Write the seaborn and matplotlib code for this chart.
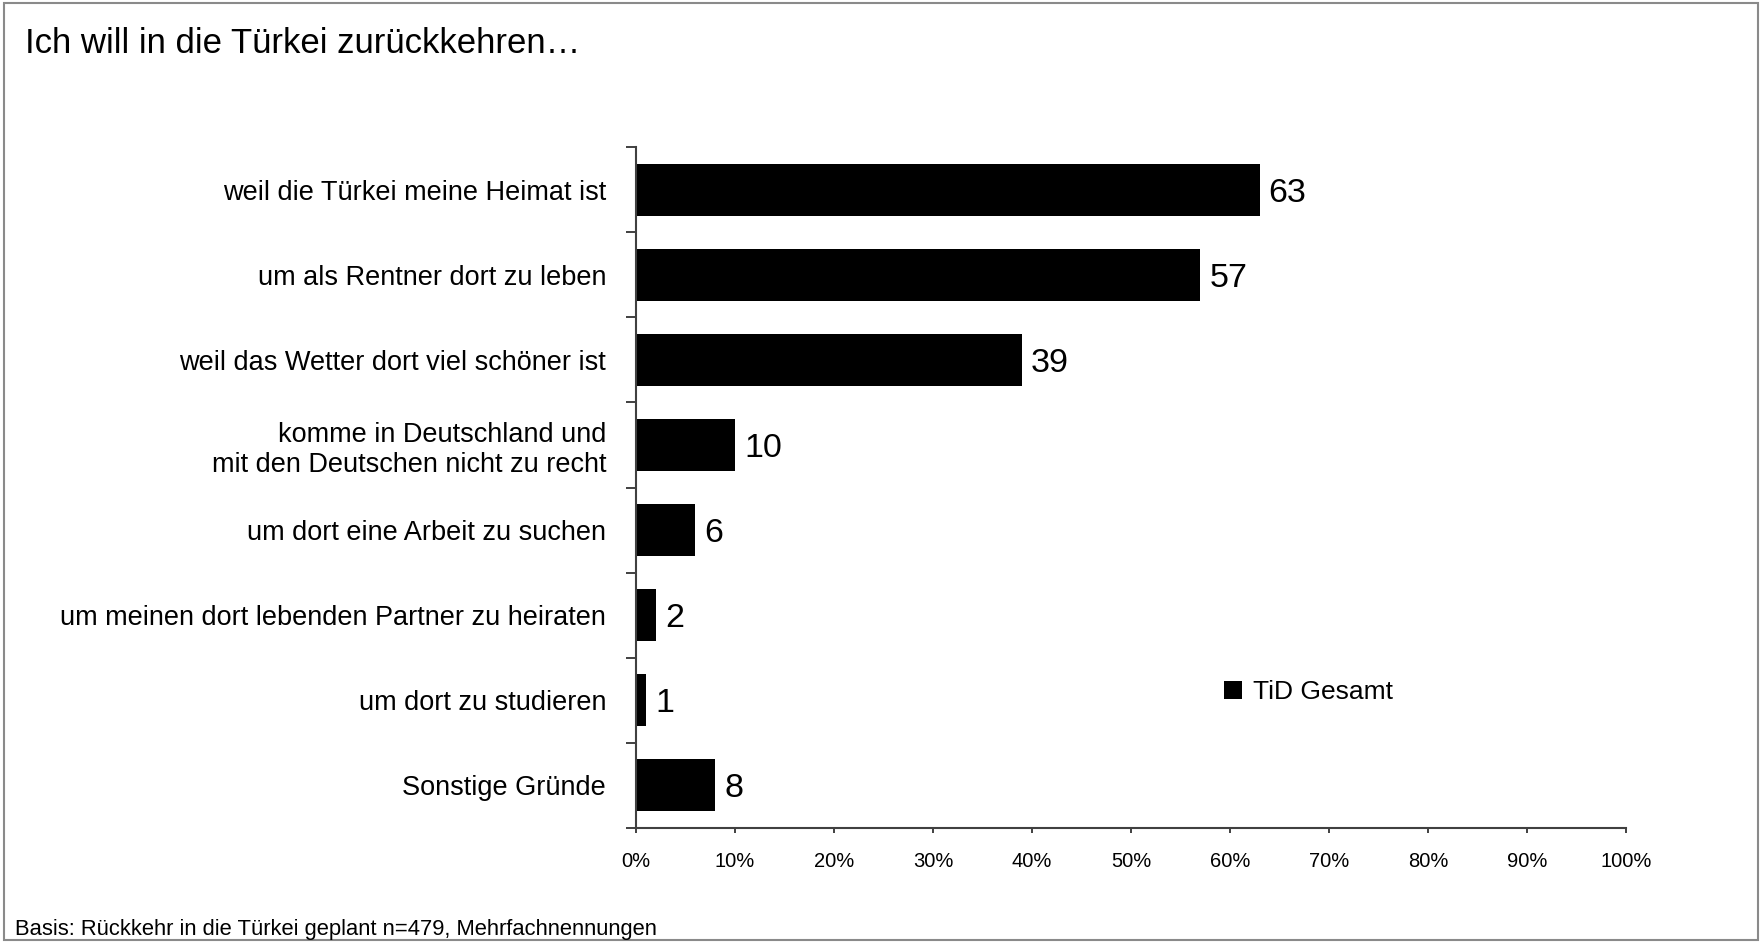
import matplotlib
matplotlib.use("Agg")
import matplotlib.pyplot as plt
import numpy as np
import pandas as pd
import seaborn as sns
from matplotlib.patches import Rectangle

# --- data -------------------------------------------------------------
reasons = [
    "weil die Türkei meine Heimat ist",
    "um als Rentner dort zu leben",
    "weil das Wetter dort viel schöner ist",
    "komme in Deutschland und\nmit den Deutschen nicht zu recht",
    "um dort eine Arbeit zu suchen",
    "um meinen dort lebenden Partner zu heiraten",
    "um dort zu studieren",
    "Sonstige Gründe",
]
shares = [63, 57, 39, 10, 6, 2, 1, 8]
series_name = "TiD Gesamt"
tick_values = list(range(0, 101, 10))
tick_labels = [f"{v}%" for v in tick_values]
title = "Ich will in die Türkei zurückkehren…"
footnote = "Basis: Rückkehr in die Türkei geplant n=479, Mehrfachnennungen"

# --- style ------------------------------------------------------------
sns.set_style("white")
FONT = ["Liberation Sans", "DejaVu Sans"]
plt.rcParams["font.family"] = FONT
for key in ("text.color", "axes.labelcolor", "xtick.color", "ytick.color"):
    plt.rcParams[key] = "black"
AXIS_COLOR = "#404040"

W, H = 1760, 942
fig = plt.figure(figsize=(W / 100, H / 100), dpi=100)
ax = fig.add_axes([636 / W, 1 - 828 / H, 990 / W, (828 - 147) / H])

df = pd.DataFrame({"Grund": reasons, "Anteil": shares, "Serie": series_name})
sns.barplot(
    data=df, x="Anteil", y="Grund", hue="Serie", palette=["black"],
    orient="h", width=0.61, saturation=1, linewidth=0, ax=ax,
)

ax.set_xlim(0, 100)
ax.set_ylim(len(reasons) - 0.5, -0.5)
ax.set_xlabel("")
ax.set_ylabel("")
ax.set_xticks(tick_values, tick_labels)
ax.set_yticks(np.arange(-0.5, len(reasons), 1.0), minor=True)

ax.tick_params(axis="y", which="major", left=True, length=0, pad=21.5,
               labelsize=19.5)
ax.tick_params(axis="y", which="minor", left=True, length=7.2, width=1.4,
               color=AXIS_COLOR, direction="out")
ax.tick_params(axis="x", which="major", bottom=True, length=3.6, width=1.4,
               color=AXIS_COLOR, direction="out", pad=13.5, labelsize=14.5)

sns.despine(ax=ax)
for side in ("left", "bottom"):
    ax.spines[side].set_color(AXIS_COLOR)
    ax.spines[side].set_linewidth(1.5)

# value labels at the bar ends, centred on the digits
value_texts = ax.bar_label(ax.containers[0], fmt="{:.0f}", padding=6.5,
                           fontsize=24.5)
for t in value_texts:
    t.set_verticalalignment("center_baseline")

sns.move_legend(
    ax, loc="center left", bbox_to_anchor=(1224 / W, 1 - 692 / H),
    bbox_transform=fig.transFigure, title=None, frameon=False,
    fontsize=19, handlelength=0.7, handleheight=0.7, handletextpad=0.4,
    borderpad=0, borderaxespad=0,
)

fig.text(25 / W, 1 - 53 / H, title, fontsize=25, ha="left", va="baseline")
fig.text(15 / W, 1 - 935 / H, footnote, fontsize=15.8, ha="left",
         va="baseline")

# frame round the whole chart
fig.add_artist(Rectangle((4 / W, 2 / H), (1758 - 4) / W, (940 - 3) / H,
                         transform=fig.transFigure, fill=False,
                         edgecolor="#8a8a8a", linewidth=1.5))

fig.savefig("out.png", dpi=100)
